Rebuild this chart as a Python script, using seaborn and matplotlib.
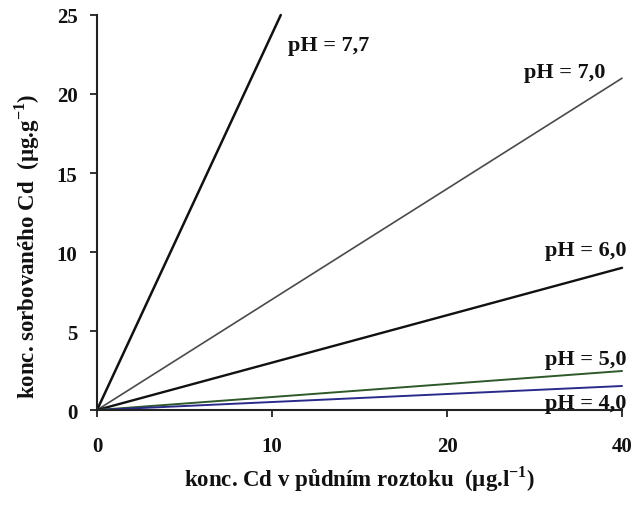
import matplotlib
matplotlib.use("Agg")
import matplotlib.pyplot as plt
import seaborn as sns
import pandas as pd

# Data (x in axis position units; tick labels as printed on the chart)
series_names = ["pH = 7,7", "pH = 7,0", "pH = 6,0", "pH = 5,0", "pH = 4,0"]
x_start = [0, 0, 0, 0, 0]
y_start = [0, 0, 0, 0, 0]
x_end = [10.5, 30, 30, 30, 30]
y_end = [25, 21, 9.0, 2.47, 1.52]
x_tick_pos = [0, 10, 20, 30]
x_tick_labels = ["0", "10", "20", "40"]
y_ticks = [0, 5, 10, 15, 20, 25]

colors = ["#111111", "#4a4a4a", "#111111", "#2e5a2a", "#2a2a8a"]
widths = [1.8, 1.2, 1.7, 1.4, 1.4]
label_pos = [(10.9, 22.8), (24.4, 21.1), (25.6, 9.8), (25.6, 2.9), (25.6, 0.13)]

sns.set_theme(style="white")
plt.rcParams["font.family"] = ["Liberation Serif", "DejaVu Serif"]
plt.rcParams["mathtext.fontset"] = "custom"
plt.rcParams["mathtext.rm"] = "Liberation Serif:bold"
plt.rcParams["mathtext.bf"] = "Liberation Serif:bold"

rows = []
for name, xs, ys, xe, ye in zip(series_names, x_start, y_start, x_end, y_end):
    rows.append({"series": name, "x": xs, "y": ys})
    rows.append({"series": name, "x": xe, "y": ye})
df = pd.DataFrame(rows)

fig = plt.figure(figsize=(6.35, 5.06), dpi=100)
ax = fig.add_axes([0.1528, 0.1877, 0.8268, 0.7807])

for name, c, w in zip(series_names, colors, widths):
    sub = df[df["series"] == name]
    sns.lineplot(data=sub, x="x", y="y", color=c, linewidth=w, ax=ax,
                 legend=False, estimator=None, sort=False, clip_on=False)

for name, (lx, ly) in zip(series_names, label_pos):
    ax.text(lx, ly, name, fontsize=16, fontweight="bold", ha="left", va="baseline",
            color="#111111", clip_on=False)

ax.set_xlim(0, 30)
ax.set_ylim(0, 25)
ax.set_xticks(x_tick_pos)
ax.set_xticklabels(x_tick_labels)
ax.set_yticks(y_ticks)
for lab in ax.get_xticklabels() + ax.get_yticklabels():
    lab.set_fontweight("bold")
    lab.set_fontsize(15)
    lab.set_color("#111111")

ax.tick_params(axis="both", direction="out", length=5, width=1.3, color="#222222",
               bottom=True, left=True)
ax.tick_params(axis="x", pad=14)
ax.tick_params(axis="y", pad=9)
for s in ["top", "right"]:
    ax.spines[s].set_visible(False)
for s in ["left", "bottom"]:
    ax.spines[s].set_color("#222222")
    ax.spines[s].set_linewidth(1.5)

ax.set_xlabel(r"konc. Cd v půdním roztoku  (µg.l$^{\mathbf{-1}}$)", fontsize=16.5,
              fontweight="bold", color="#111111")
ax.set_ylabel(r"konc. sorbovaného Cd  (µg.g$^{\mathbf{-1}}$)", fontsize=16.5,
              fontweight="bold", color="#111111")
ax.xaxis.set_label_coords(0.5, -0.135)
ax.yaxis.set_label_coords(-0.105, 0.418)

fig.savefig("out.png", dpi=100)
